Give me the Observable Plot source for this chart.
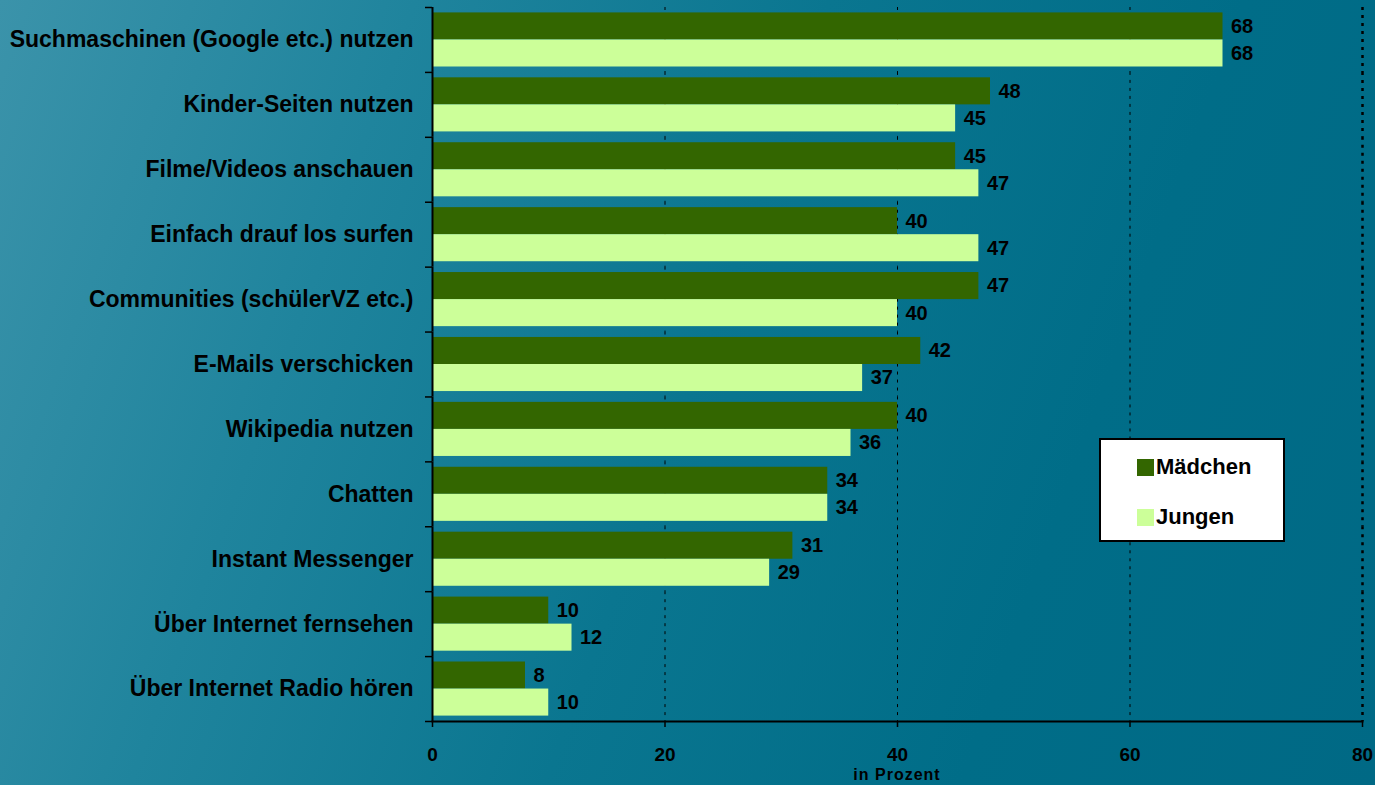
<!DOCTYPE html>
<html>
<head>
<meta charset="utf-8">
<script src="https://cdn.jsdelivr.net/npm/d3@7"></script>
<script src="https://cdn.jsdelivr.net/npm/@observablehq/plot@0.6"></script>
<style>
  html, body { margin: 0; padding: 0; }
  body {
    width: 1375px; height: 785px; overflow: hidden; position: relative;
    background: linear-gradient(110deg, #3b93aa 0%, #1f849d 25%, #0a7690 50%, #006d88 75%, #006985 100%);
    font-family: "Liberation Sans", Arial, sans-serif;
  }
  #chart { position: absolute; left: 0; top: 0; }
  #legend {
    position: absolute; left: 1099px; top: 438px; width: 182px; height: 100px;
    background: #fff; border: 2px solid #000;
    font: bold 22px "Liberation Sans", Arial, sans-serif; color: #000;
  }
  #legend .item { position: absolute; left: 36px; display: flex; align-items: center; }
  #legend .sw { width: 17px; height: 17px; margin-right: 2px; }
</style>
</head>
<body>
<div id="chart"></div>
<div id="legend"></div>
<script>
const categories = [
  "Suchmaschinen (Google etc.) nutzen",
  "Kinder-Seiten nutzen",
  "Filme/Videos anschauen",
  "Einfach drauf los surfen",
  "Communities (schülerVZ etc.)",
  "E-Mails verschicken",
  "Wikipedia nutzen",
  "Chatten",
  "Instant Messenger",
  "Über Internet fernsehen",
  "Über Internet Radio hören"
];
const series = ["Mädchen", "Jungen"];
const maedchen = [68, 48, 45, 40, 47, 42, 40, 34, 31, 10, 8];
const jungen   = [68, 45, 47, 47, 40, 37, 36, 34, 29, 12, 10];
const colors = ["#336600", "#ccff99"];
const xTicks = [0, 20, 40, 60, 80];

const data = [];
categories.forEach((c, i) => {
  data.push({category: c, series: series[0], value: maedchen[i]});
  data.push({category: c, series: series[1], value: jungen[i]});
});

const W = 1375, H = 785, mt = 7, mb = 64, ml = 432, mr = 13;
const step = (H - mt - mb) / categories.length;
const font = "Liberation Sans, Arial, sans-serif";

const chart = Plot.plot({
  width: W, height: H,
  marginTop: mt, marginBottom: mb, marginLeft: ml, marginRight: mr,
  style: {background: "transparent", fontFamily: font, color: "#000", overflow: "visible"},
  x: {domain: [0, 80]},
  fy: {domain: categories, padding: 0, round: false, axis: null},
  y: {domain: series, paddingInner: 0, paddingOuter: 0.2, round: false, axis: null},
  color: {domain: series, range: colors},
  marks: [
    Plot.ruleX([20, 40, 60], {stroke: "#000", strokeWidth: 1, strokeDasharray: "3,5"}),
    Plot.ruleX([80], {stroke: "#000", strokeWidth: 2.5, strokeDasharray: "3,5"}),
    Plot.barX(data, {fy: "category", y: "series", x: "value", fill: "series"}),
    Plot.text(data, {fy: "category", y: "series", x: "value", text: d => String(d.value),
      textAnchor: "start", dx: 8, fontSize: 20, fontWeight: "bold", fill: "#000"}),
    Plot.ruleX([0], {stroke: "#000", strokeWidth: 2}),
    Plot.axisFy({anchor: "left", tickSize: 0, tickPadding: 19, fontSize: 23, fontWeight: "bold", label: null}),
    Plot.axisFy({anchor: "left", tickSize: 7, text: null, dy: step / 2, strokeWidth: 1.5, label: null}),
    Plot.axisFy({anchor: "left", tickSize: 7, text: null, dy: -step / 2, strokeWidth: 1.5, label: null, ticks: [categories[0]]}),
    Plot.frame({anchor: "bottom", facetAnchor: "bottom", stroke: "#000", strokeWidth: 2}),
    Plot.axisX({anchor: "bottom", ticks: xTicks, tickSize: 6, tickPadding: 20, fontSize: 19, fontWeight: "bold",
      strokeWidth: 1.5, label: null}),
  ]
});
document.getElementById("chart").appendChild(chart);

// axis title
const svg = d3.select(chart);
svg.append("text")
  .attr("x", ml + (W - ml - mr) / 2).attr("y", 780)
  .attr("text-anchor", "middle")
  .attr("font-family", font).attr("font-size", 16).attr("font-weight", "bold")
  .attr("letter-spacing", 1)
  .text("in Prozent");

const legend = document.getElementById("legend");
series.forEach((s, i) => {
  const item = document.createElement("div");
  item.className = "item";
  item.style.top = (14 + i * 50) + "px";
  const sw = document.createElement("div");
  sw.className = "sw"; sw.style.background = colors[i];
  const t = document.createElement("span"); t.textContent = s;
  item.appendChild(sw); item.appendChild(t);
  legend.appendChild(item);
});
</script>
</body>
</html>
